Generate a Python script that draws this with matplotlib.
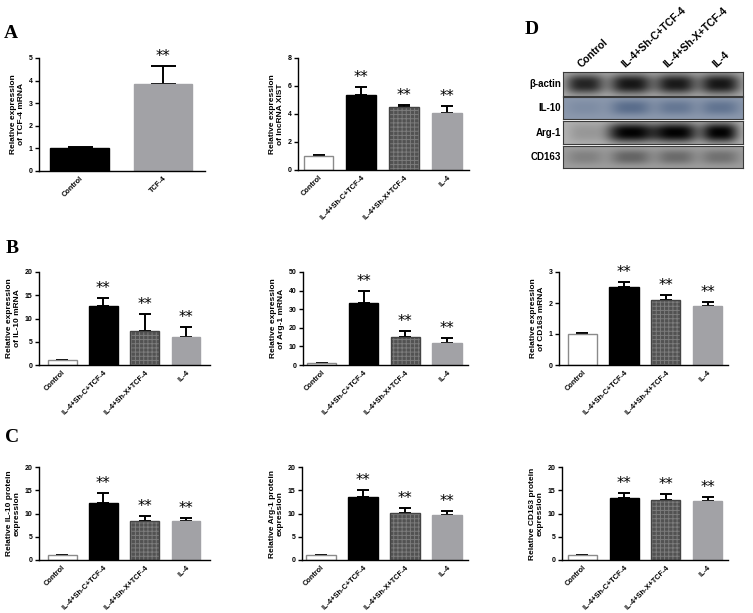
import numpy as np
import matplotlib
matplotlib.use("Agg")
import matplotlib.pyplot as plt

W, H = 753, 613
plt.rcParams['font.family'] = ['Liberation Sans', 'DejaVu Sans']
plt.rcParams['hatch.linewidth'] = 0.7

groups = ['Control', 'IL-4+Sh-C+TCF-4', 'IL-4+Sh-X+TCF-4', 'IL-4']

# panel A
tcf_groups = ['Control', 'TCF-4']
tcf_mrna = [1.0, 3.86]
tcf_err = [0.05, 0.78]
xist = [1.0, 5.35, 4.5, 4.1]
xist_err = [0.05, 0.57, 0.15, 0.45]
# panel B (mRNA)
il10_mrna = [1.0, 12.6, 7.4, 6.1]
il10_mrna_err = [0.1, 1.8, 3.6, 2.0]
arg1_mrna = [1.0, 33.4, 14.8, 11.8]
arg1_mrna_err = [0.2, 6.2, 3.6, 2.8]
cd163_mrna = [1.0, 2.52, 2.11, 1.91]
cd163_mrna_err = [0.03, 0.17, 0.14, 0.13]
# panel C (protein)
il10_prot = [1.0, 12.3, 8.4, 8.4]
il10_prot_err = [0.05, 2.2, 1.0, 0.6]
arg1_prot = [1.0, 13.6, 10.1, 9.7]
arg1_prot_err = [0.05, 1.4, 1.1, 0.9]
cd163_prot = [1.0, 13.4, 12.9, 12.7]
cd163_prot_err = [0.05, 1.0, 1.4, 0.9]

# panel D (band intensities per lane)
blot_rows = ['β-actin', 'IL-10', 'Arg-1', 'CD163']
blot_levels = [[0.88, 0.97, 0.95, 0.97],
               [0.18, 0.65, 0.5, 0.55],
               [0.15, 1.0, 1.0, 1.0],
               [0.35, 0.7, 0.62, 0.55]]

fig = plt.figure(figsize=(W / 100, H / 100), dpi=100)
fig.patch.set_facecolor('white')


def px_axes(x0, y0, x1, y1):
    return fig.add_axes([x0 / W, 1 - y1 / H, (x1 - x0) / W, (y1 - y0) / H])


styles = {
    'white': dict(facecolor='white', edgecolor='#8a8a8a'),
    'black': dict(facecolor='black', edgecolor='black'),
    'grid': dict(facecolor='#525252', edgecolor='#525252'),
    'gray': dict(facecolor='#a2a2a6', edgecolor='#a2a2a6'),
}


def bar_panel(box, labels, vals, errs, ylab, ymax, ystep, xlim, kinds, cap=4.5):
    ax = px_axes(*box)
    x = np.arange(len(vals))
    for i, k in enumerate(kinds):
        st = styles[k]
        if k == 'grid':
            ax.bar(x[i], vals[i], 0.7, facecolor=st['facecolor'], edgecolor='#7c7c7c',
                   hatch='++++', linewidth=0, zorder=2)
            ax.bar(x[i], vals[i], 0.7, fill=False, edgecolor='#444444', linewidth=1, zorder=3)
        else:
            ax.bar(x[i], vals[i], 0.7, linewidth=1, zorder=2, **st)
    ax.errorbar(x, vals, yerr=[np.zeros(len(vals)), errs], fmt='none', ecolor='black',
                elinewidth=1.4, capsize=cap, capthick=1.4, zorder=1)
    for i in range(1, len(vals)):
        ax.text(x[i], vals[i] + errs[i] + ymax * 0.02, '**', ha='center', va='bottom',
                fontsize=10.5, family='DejaVu Sans')
    ax.set_ylim(0, ymax)
    ax.set_xlim(*xlim)
    ax.set_yticks(np.arange(0, ymax + ystep / 2, ystep))
    ax.set_xticks(x)
    ax.set_xticklabels(labels, rotation=45, ha='right', rotation_mode='anchor',
                       fontsize=5.3, fontweight='bold')
    ax.tick_params(axis='x', length=0, pad=3)
    ax.tick_params(axis='y', length=3, width=1, labelsize=5, pad=1.5)
    for t in ax.get_yticklabels():
        t.set_fontweight('bold')
    for s in ['top', 'right']:
        ax.spines[s].set_visible(False)
    for s in ['left', 'bottom']:
        ax.spines[s].set_linewidth(1)
    ax.set_ylabel(ylab, fontsize=6, fontweight='bold', labelpad=3, linespacing=1.1)
    ax.patch.set_alpha(0)
    return ax


four = ['white', 'black', 'grid', 'gray']
bar_panel((39, 58, 205, 171), tcf_groups, tcf_mrna, tcf_err,
          'Relative expression\nof TCF-4 mRNA', 5, 1, (-0.485, 1.5), ['black', 'gray'], cap=9)
bar_panel((298, 58, 469, 170), groups, xist, xist_err,
          'Relative expression\nof lncRNA XIST', 8, 2, (-0.48, 3.52), four)
bar_panel((39, 272, 210, 365), groups, il10_mrna, il10_mrna_err,
          'Relative expression\nof IL-10 mRNA', 20, 5, (-0.56, 3.58), four)
bar_panel((303, 272, 468, 365), groups, arg1_mrna, arg1_mrna_err,
          'Relative expression\nof Arg-1 mRNA', 50, 10, (-0.45, 3.5), four)
bar_panel((559, 272, 728, 365), groups, cd163_mrna, cd163_mrna_err,
          'Relative expression\nof CD163 mRNA', 3, 1, (-0.56, 3.49), four)
bar_panel((39, 467, 210, 560), groups, il10_prot, il10_prot_err,
          'Relative IL-10 protein\nexpression', 20, 5, (-0.56, 3.58), four)
bar_panel((302, 467, 468, 560), groups, arg1_prot, arg1_prot_err,
          'Relative Arg-1 protein\nexpression', 20, 5, (-0.45, 3.5), four)
bar_panel((562, 467, 728, 560), groups, cd163_prot, cd163_prot_err,
          'Relative CD163 protein\nexpression', 20, 5, (-0.49, 3.49), four)

# western blot
row_boxes = [(72, 96), (97, 119), (121, 144), (146, 168)]
bg_cols = [np.array([0.68, 0.68, 0.68]), np.array([0.55, 0.60, 0.68]),
           np.array([0.70, 0.70, 0.70]), np.array([0.62, 0.62, 0.62])]
band_cols = [np.array([0.07, 0.07, 0.07]), np.array([0.25, 0.34, 0.48]),
             np.array([0.01, 0.01, 0.01]), np.array([0.30, 0.30, 0.30])]
lane_x = np.array([585, 631, 676, 720]) - 563
band_w = [[19, 21, 20, 20], [18, 20, 19, 19], [16, 24, 22, 18], [18, 20, 19, 19]]
band_h = [0.40, 0.32, 0.42, 0.33]
bx0, bx1 = 563, 743
for r, (y0, y1) in enumerate(row_boxes):
    ax = px_axes(bx0, y0, bx1, y1)
    nx, ny = bx1 - bx0, y1 - y0
    xx, yy = np.meshgrid(np.arange(nx) + 0.5, np.arange(ny) + 0.5)
    inten = np.zeros((ny, nx))
    for k, lev in enumerate(blot_levels[r]):
        hx = band_w[r][k]
        hy = ny * band_h[r]
        inten += lev * np.exp(-np.abs((xx - lane_x[k]) / hx) ** 3) * \
            np.exp(-np.abs((yy - ny / 2) / hy) ** 2.5)
    inten = np.clip(inten, 0, 1)
    img = bg_cols[r][None, None, :] * (1 - inten[..., None]) + band_cols[r][None, None, :] * inten[..., None]
    ax.imshow(img, aspect='auto', interpolation='bilinear')
    ax.set_xticks([])
    ax.set_yticks([])
    for s in ax.spines.values():
        s.set_color('#3a3a3a')
        s.set_linewidth(0.8)
    fig.text(561 / W, 1 - ((y0 + y1) / 2) / H, blot_rows[r], ha='right', va='center',
             fontsize=7, fontweight='bold', family=['Liberation Sans', 'DejaVu Sans'])

lane_lab_x = [583, 627, 669, 718]
for lx, lab in zip(lane_lab_x, groups):
    fig.text(lx / W, 1 - 69 / H, lab, rotation=43, rotation_mode='anchor',
             ha='left', va='bottom', fontsize=7.5, fontweight='bold')

# panel letters
for lab, (lx, ly) in zip('ABCD', [(4, 33), (6, 248), (5, 437), (525, 29)]):
    fig.text(lx / W, 1 - ly / H, lab, ha='left', va='center', fontsize=14,
             fontweight='bold', family='Liberation Serif')

fig.savefig('out.png', dpi=100)
